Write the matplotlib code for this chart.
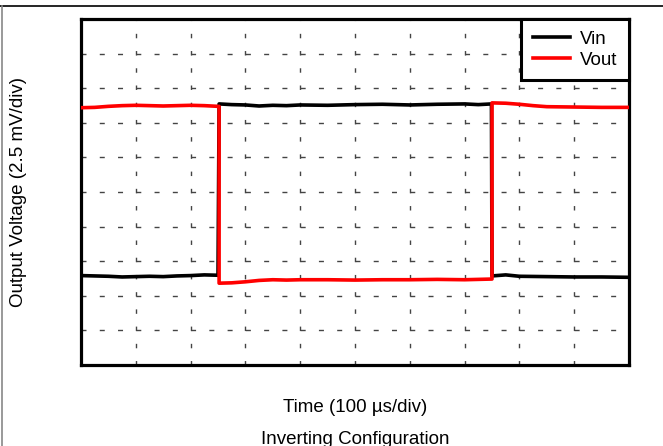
import numpy as np
import matplotlib.pyplot as plt
from matplotlib.lines import Line2D

plt.rcParams['font.family'] = ['Liberation Sans', 'DejaVu Sans']

# time in divisions (100 us/div), level in divisions (2.5 mV/div)
vin_t = [0, 0.25, 0.5, 0.75, 1.0, 1.25, 1.5, 1.75, 2.0, 2.25, 2.5,
         2.52, 2.75, 3.0, 3.25, 3.5, 3.75, 4.0, 4.5, 5.0, 5.5, 6.0, 6.5, 7.0, 7.25, 7.49,
         7.5, 7.75, 8.0, 8.5, 9.0, 9.5, 10]
vin_v = [2.58, 2.57, 2.56, 2.54, 2.55, 2.56, 2.55, 2.57, 2.58, 2.60, 2.59,
         7.55, 7.53, 7.52, 7.49, 7.51, 7.50, 7.52, 7.51, 7.53, 7.54, 7.52, 7.54, 7.55, 7.53, 7.55,
         2.57, 2.60, 2.56, 2.55, 2.54, 2.54, 2.53]

vout_t = [0, 0.25, 0.5, 0.75, 1.0, 1.25, 1.5, 1.75, 2.0, 2.25, 2.5, 2.52,
          2.52, 2.75, 3.0, 3.25, 3.5, 3.75, 4.0, 4.5, 5.0, 5.5, 6.0, 6.5, 7.0, 7.25, 7.5,
          7.5, 7.75, 8.0, 8.25, 8.5, 9.0, 9.5, 10]
vout_v = [7.44, 7.45, 7.48, 7.50, 7.51, 7.50, 7.49, 7.50, 7.51, 7.50, 7.48, 7.48,
          2.36, 2.37, 2.40, 2.44, 2.46, 2.45, 2.46, 2.46, 2.45, 2.46, 2.46, 2.47, 2.46, 2.47, 2.48,
          7.58, 7.57, 7.54, 7.50, 7.47, 7.46, 7.45, 7.45]

n_div = 10

fig = plt.figure(figsize=(6.63, 4.46), dpi=100)
ax = fig.add_axes([81/663, 1 - 364.7/446, 548/663, 345.4/446])
ax.set_xlim(0, n_div)
ax.set_ylim(0, n_div)

# oscilloscope style dashed graticule
for k in range(1, n_div):
    ax.plot([0, n_div], [k, k], color='#444444', lw=1.0,
            dashes=(3.6, 9.55), zorder=1)
    ax.plot([k, k], [0, n_div], color='#444444', lw=1.0,
            dashes=(3.2, 9.2), zorder=1)

ax.plot(vin_t, vin_v, color='black', lw=2.6, label='Vin', zorder=3)
ax.plot(vout_t, vout_v, color='red', lw=2.6, label='Vout', zorder=4)

ax.set_xticks([])
ax.set_yticks([])
for s in ax.spines.values():
    s.set_linewidth(2.3)

leg = ax.legend(loc='upper right', borderaxespad=0, fancybox=False,
                fontsize=13.5, handlelength=2.0, handletextpad=0.55,
                borderpad=0.6, labelspacing=0.2)
leg.get_frame().set_edgecolor('black')
leg.get_frame().set_linewidth(2.2)
leg.get_frame().set_alpha(1)

fig.text(19/663, 1 - 192/446, 'Output Voltage (2.5 mV/div)', rotation=90,
         ha='center', va='center', fontsize=13.5)
fig.text(355/663, 1 - 412.3/446, 'Time (100 µs/div)', ha='center',
         va='baseline', fontsize=13.5)
fig.text(355/663, 1 - 443.5/446, 'Inverting Configuration', ha='center',
         va='baseline', fontsize=13.5)

# outer frame lines
fig.add_artist(Line2D([0, 1], [1 - 6/446, 1 - 6/446], color='black', lw=1.2))
fig.add_artist(Line2D([1.5/663, 1.5/663], [0, 1 - 6/446], color='#888888', lw=1.2))

fig.savefig('out.png', dpi=100)
